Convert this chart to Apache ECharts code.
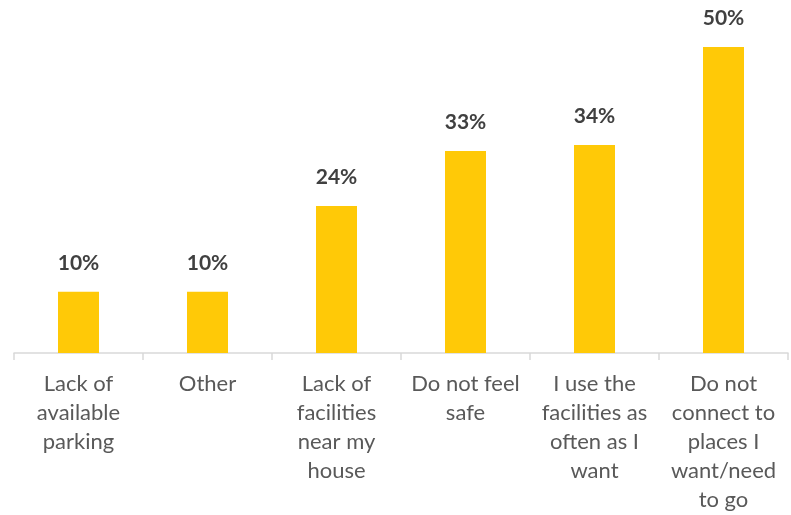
<!DOCTYPE html>
<html><head><meta charset="utf-8">
<script src="https://cdn.jsdelivr.net/npm/echarts@6/dist/echarts.min.js"></script>
<style>html,body{margin:0;padding:0;background:#fff}#c{width:791px;height:515px}</style>
</head><body><div id="c"></div>
<script>
const categories = ["Lack of\navailable\nparking", "Other", "Lack of\nfacilities\nnear my\nhouse", "Do not feel\nsafe", "I use the\nfacilities as\noften as I\nwant", "Do not\nconnect to\nplaces I\nwant/need\nto go"];
const values = [10, 10, 24, 33, 34, 50];
const chart = echarts.init(document.getElementById('c'));
chart.setOption({
  animation: false,
  grid: {left: 14, right: 3, top: 47, bottom: 162, containLabel: false},
  xAxis: {
    type: 'category', data: categories,
    axisLine: {lineStyle: {color: '#d9d9d9', width: 1.5}},
    axisTick: {show: true, length: 7, lineStyle: {color: '#d9d9d9', width: 1.5}},
    axisLabel: {interval: 0, color: '#595959', fontFamily: 'Lato', fontSize: 22, lineHeight: 29, margin: 16}
  },
  yAxis: {type: 'value', min: 0, max: 50, show: false, splitLine: {show: false}},
  series: [{
    type: 'bar', data: values, barWidth: 41,
    itemStyle: {color: '#FFC907'},
    label: {show: true, position: 'top', distance: 18, formatter: '{c}%', color: '#404040', fontFamily: 'Lato', fontWeight: 'bold', fontSize: 21}
  }]
});
</script></body></html>
